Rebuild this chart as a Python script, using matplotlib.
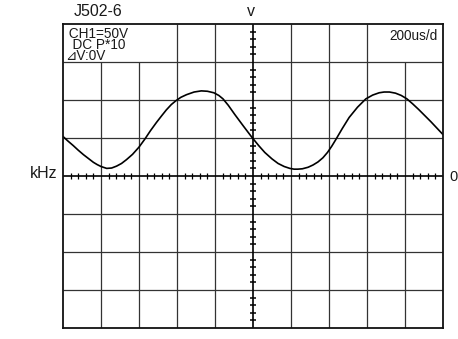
import matplotlib
matplotlib.use("Agg")
import matplotlib.pyplot as plt

# trace, in divisions (x: 0..10 at 200us/div, y: -4..4)
trace_x = [0.0, 0.13, 0.27, 0.40, 0.54, 0.67, 0.80, 0.90, 1.0, 1.15,
           1.28, 1.41, 1.54, 1.67, 1.83, 2.0, 2.16, 2.30, 2.46, 2.60,
           2.72, 2.85, 2.97, 3.10, 3.25, 3.45, 3.64, 3.80, 3.97, 4.10,
           4.21, 4.35, 4.52, 4.75, 4.97, 5.15, 5.31, 5.50, 5.66, 5.82,
           5.97, 6.08, 6.18, 6.30, 6.45, 6.58, 6.71, 6.84, 6.96, 7.07,
           7.18, 7.35, 7.53, 7.75, 7.97, 8.15, 8.32, 8.45, 8.59, 8.75,
           8.90, 9.05, 9.20, 9.36, 9.52, 9.68, 9.84, 10.0]
trace_y = [1.04, 0.92, 0.80, 0.68, 0.56, 0.46, 0.36, 0.30, 0.25, 0.20,
           0.21, 0.26, 0.33, 0.43, 0.57, 0.76, 0.98, 1.19, 1.41, 1.59,
           1.74, 1.88, 1.98, 2.07, 2.14, 2.21, 2.24, 2.23, 2.19, 2.12,
           2.03, 1.86, 1.62, 1.31, 1.02, 0.80, 0.62, 0.45, 0.33, 0.25,
           0.20, 0.18, 0.18, 0.19, 0.23, 0.29, 0.37, 0.48, 0.62, 0.78,
           0.96, 1.25, 1.54, 1.81, 2.03, 2.13, 2.19, 2.21, 2.21, 2.18,
           2.12, 2.03, 1.90, 1.75, 1.59, 1.43, 1.26, 1.09]

title = "J502-6"
ch_info = [" CH1=50V", "  DC P*10", "\u22bfV:0V"]
timebase = "200us/d"

W, H = 458, 339
fig = plt.figure(figsize=(W / 100, H / 100), dpi=100)
ax = fig.add_axes([63 / W, (H - 328) / H, 380 / W, 304 / H])
ax.set_xlim(0, 10)
ax.set_ylim(-4, 4)
ax.set_xticks([])
ax.set_yticks([])
for s in ax.spines.values():
    s.set_linewidth(1.3)
    s.set_color("#111111")

grid_c = "#333333"
# vertical divisions (top row is left open where the labels sit)
for i in range(1, 10):
    if i == 5:
        continue
    top = 3 if i in (1, 2, 9) else 4
    ax.vlines(i, -4, top, color=grid_c, lw=0.9)
for j in (-3, -2, -1, 1, 2, 3):
    ax.hlines(j, 0, 10, color=grid_c, lw=0.9)

# centre axes with minor ticks
ax.hlines(0, 0, 10, color="black", lw=1.2)
ax.vlines(5, -4, 4, color="black", lw=1.2)
for k in range(1, 50):
    if k % 5:
        ax.vlines(k * 0.2, -0.09, 0.09, color="black", lw=0.9)
for k in range(-19, 20):
    if k % 5:
        ax.hlines(k * 0.2, 4.91, 5.09, color="black", lw=1.1)

ax.plot(trace_x, trace_y, color="black", lw=1.2,
        solid_capstyle="round", solid_joinstyle="round")

fam = ["Liberation Sans", "DejaVu Sans"]


def put(x, y, s, size, ha="left", va="center", **kw):
    fig.text(x / W, 1 - y / H, s, fontsize=size, ha=ha, va=va,
             family=fam, color="#1a1a1a", **kw)


put(74, 12, title, 11.5)
put(251, 11, "v", 11.5, ha="center")
put(57, 174, "kHz", 11.5, ha="right")
put(449, 177, "0", 10.5)
put(65, 27, "\n".join(ch_info), 9.8, va="top", linespacing=0.72)
put(438, 36, timebase, 9.8, ha="right")

fig.savefig("out.png", dpi=100)
